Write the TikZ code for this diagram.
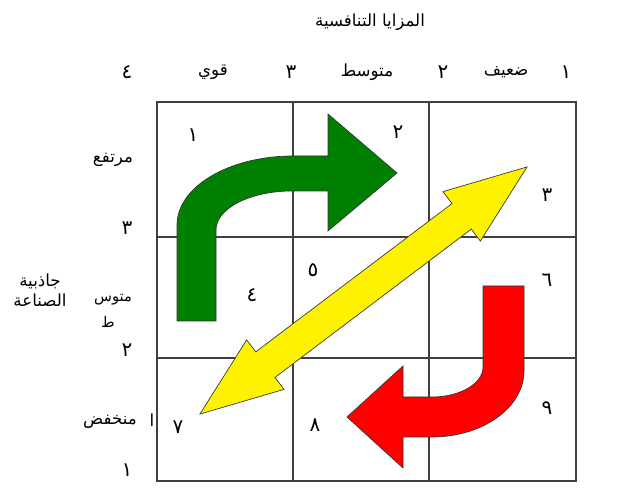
\documentclass[tikz,border=0pt]{standalone}
\usepackage{fontspec}
\newfontfamily\arabicfont[Script=Arabic]{DejaVu Sans}
\TeXXeTstate=1
\newcommand{\ar}[1]{\arabicfont\beginR #1\endR}
\tikzset{
  gridline/.style={draw=black!75,line width=0.8pt},
  txt/.style={font=\fontsize{12.5}{15}\selectfont,inner sep=0pt,align=center},
  num/.style={font=\fontsize{15}{17}\selectfont,inner sep=0pt},
  garrow/.style={draw=black!80,line width=0.5pt,fill=green!50!black},
  rarrow/.style={draw=black!80,line width=0.5pt,fill=red},
  yarrow/.style={draw=black!80,line width=0.5pt,fill=yellow}
}
\begin{document}
\begin{tikzpicture}[x=0.75pt,y=0.75pt]
\useasboundingbox (0,0) rectangle (640,495);
\draw[gridline](157,14)rectangle(576,393);
\foreach \xx in {293,429}\draw[gridline](\xx,14)--(\xx,393);
\foreach \yy in {137,258}\draw[gridline](157,\yy)--(576,\yy);
\draw[garrow](177,174)--(177,270)arc[start angle=180,end angle=90,x radius=116,y radius=69]--(328,339)--(328,381)--(397,322)--(328,264)--(328,304)--(292,304)arc[start angle=90,end angle=180,x radius=76,y radius=39]--(216,174)--cycle;
\draw[rarrow](483,209)--(483,128)arc[start angle=0,end angle=-90,x radius=51,y radius=30]--(403,98)--(403,129)--(347,78)--(403,27)--(403,58)--(432,58)arc[start angle=-90,end angle=0,x radius=92,y radius=66]--(524,209)--cycle;
\begin{scope}[shift={(363.5,204.5)},rotate=37.07]
\draw[yarrow](205,0)--(123,31)--(123,16)--(-123,16)--(-123,31)--(-205,0)--(-123,-31)--(-123,-16)--(123,-16)--(123,-31)--cycle;
\end{scope}
\node[txt](title)at(370,473){\ar{المزايا التنافسية}};
\node[num](c1)at(566,423){\ar{١}};
\node[txt](weak)at(506,423){\ar{ضعيف}};
\node[num](c2)at(443,423){\ar{٢}};
\node[txt](medium)at(367,423){\ar{متوسط}};
\node[num](c3)at(291,423){\ar{٣}};
\node[txt](strong)at(213,423){\ar{قوي}};
\node[num](c4)at(127,423){\ar{٤}};
\node[txt](high)at(113,335){\ar{مرتفع}};
\node[num](r3)at(127,267){\ar{٣}};
\node[txt](attract)at(40,205){\ar{جاذبية}\\\ar{الصناعة}};
\node[txt,font=\fontsize{11}{13}\selectfont](mid)at(113,195){\ar{متوس}};
\node[txt,font=\fontsize{11}{13}\selectfont](midb)at(108,173){\ar{ط}};
\node[num](r2)at(127,145){\ar{٢}};
\node[txt](low)at(110,73){\ar{منخفض}};
\node[txt](lowb)at(152,75){\ar{ا}};
\node[num](r1)at(127,25){\ar{١}};
\node[num](n1)at(193,360){\ar{١}};
\node[num](n2)at(398,363){\ar{٢}};
\node[num](n3)at(547,300){\ar{٣}};
\node[num](n4)at(252,200){\ar{٤}};
\node[num](n5)at(313,225){\ar{٥}};
\node[num](n6)at(547,215){\ar{٦}};
\node[num](n7)at(178,68){\ar{٧}};
\node[num](n8)at(315,70){\ar{٨}};
\node[num](n9)at(547,87){\ar{٩}};
\end{tikzpicture}
\end{document}
